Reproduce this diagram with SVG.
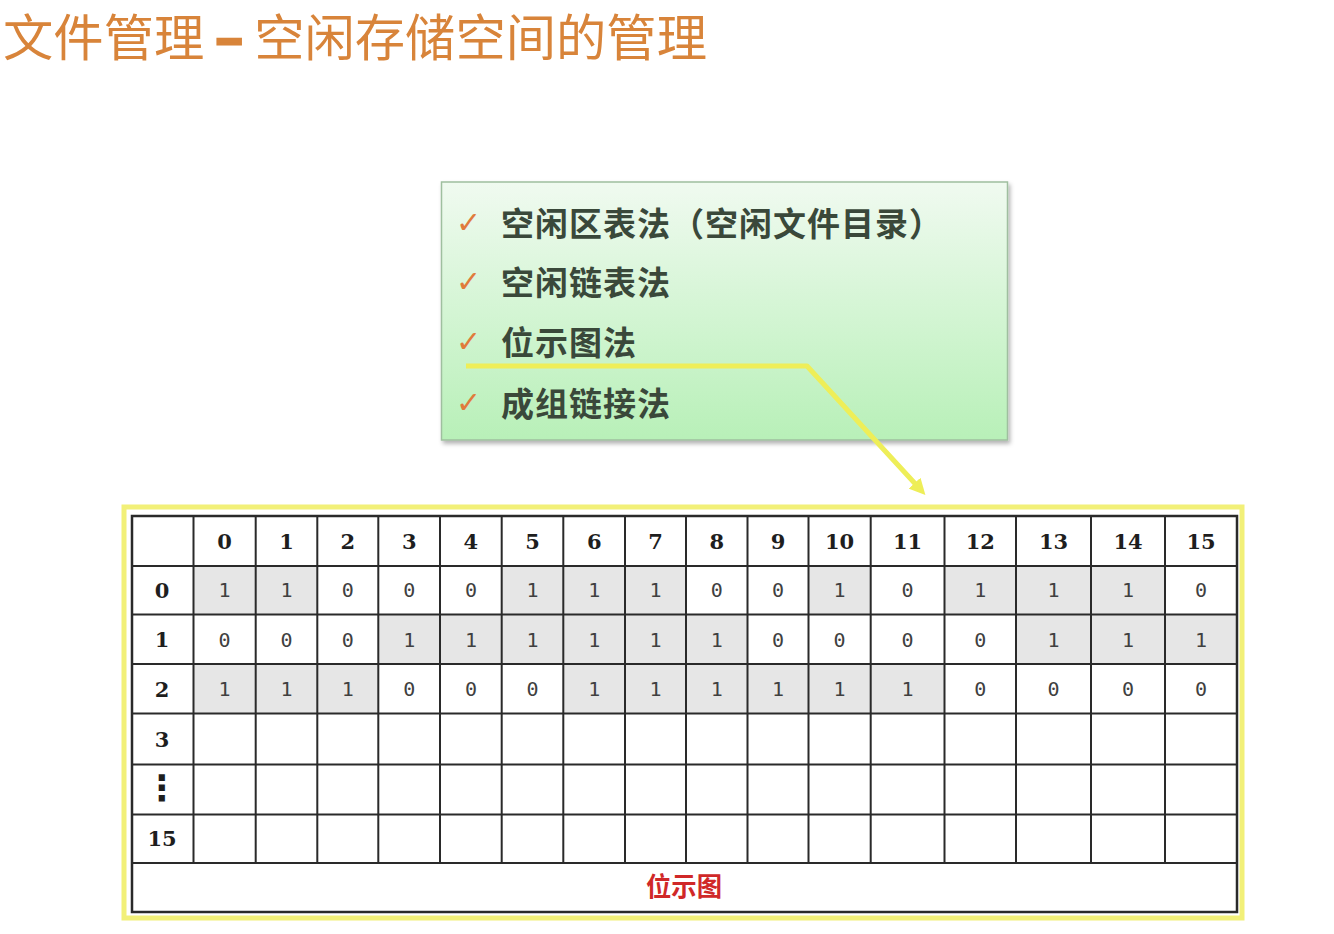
<svg xmlns="http://www.w3.org/2000/svg" width="1334" height="934" viewBox="0 0 1334 934">
<style>
.title{font-family:"Noto Sans CJK SC","Noto Sans",sans-serif;font-size:50px;fill:#d8843a}
.item{font-family:"Noto Sans CJK SC","Noto Sans",sans-serif;font-size:33px;fill:#3a483a;font-weight:bold;letter-spacing:1px}
.chk{font-family:"DejaVu Sans",sans-serif;font-size:30px;fill:#e07b3c}
.hd{font-family:"DejaVu Serif",serif;font-size:21px;font-weight:bold;fill:#1e1e1e;text-anchor:middle}
.d{font-family:"DejaVu Sans Mono",monospace;font-size:20px;fill:#404040;text-anchor:middle}
.grid{stroke:#2a2a2a;stroke-width:2;fill:none}
.on{fill:#e6e6e6}
.cap{font-family:"Noto Sans CJK SC",sans-serif;font-size:26px;font-weight:bold;fill:#d02828;text-anchor:middle}
</style>
<defs>
<linearGradient id="gg" x1="0" y1="0" x2="0" y2="1">
<stop offset="0" stop-color="#f0faf0"/>
<stop offset="1" stop-color="#b8f0b8"/>
</linearGradient>
<filter id="sh" x="-5%" y="-5%" width="110%" height="115%">
<feDropShadow dx="2" dy="3" stdDeviation="2" flood-color="#000" flood-opacity="0.3"/>
</filter>
<marker id="ah" viewBox="0 0 10 10" refX="5" refY="5" markerWidth="3.2" markerHeight="3.2" orient="auto" markerUnits="strokeWidth">
<path d="M0,0 L10,5 L0,10 z" fill="#eeee58"/>
</marker>
</defs>
<rect width="1334" height="934" fill="#ffffff"/>
<g id="title">
<text class="title" x="3" y="56" textLength="704" lengthAdjust="spacingAndGlyphs">文件管理 <tspan font-weight="bold" stroke="#d8843a" stroke-width="3">–</tspan> 空闲存储空间的管理</text>
</g>
<g id="methods">
<rect x="441.5" y="182" width="566" height="258" fill="url(#gg)" stroke="#9fbf9f" stroke-width="1.5" filter="url(#sh)"/>
<text class="chk" x="456" y="233">✓</text>
<text class="item" x="501" y="236">空闲区表法（空闲文件目录）</text>
<text class="chk" x="456" y="292">✓</text>
<text class="item" x="501" y="294.5">空闲链表法</text>
<text class="chk" x="456" y="352">✓</text>
<text class="item" x="501" y="354.5">位示图法</text>
<text class="chk" x="456" y="413">✓</text>
<text class="item" x="501" y="416">成组链接法</text>
</g>
<g id="bitmap">
<rect x="124" y="507" width="1118" height="411" fill="#ffffff" stroke="#f2f078" stroke-width="5"/>
<rect class="on" x="193.5" y="566" width="123.8" height="48.5"/>
<rect class="on" x="501.7" y="566" width="184.3" height="48.5"/>
<rect class="on" x="808.5" y="566" width="62.2" height="48.5"/>
<rect class="on" x="944.5" y="566" width="220.5" height="48.5"/>
<rect class="on" x="378.3" y="614.5" width="369.2" height="49.5"/>
<rect class="on" x="1016" y="614.5" width="221" height="49.5"/>
<rect class="on" x="193.5" y="664" width="184.8" height="49.5"/>
<rect class="on" x="563.3" y="664" width="381.2" height="49.5"/>
<g class="grid">
<rect x="132" y="516" width="1105" height="396" stroke-width="2.5"/>
<path d="M132,566H1237M132,614.5H1237M132,664H1237M132,713.5H1237M132,764.5H1237M132,814.5H1237M132,863H1237"/>
<path d="M193.5,516V863M255.7,516V863M317.3,516V863M378.3,516V863M440,516V863M501.7,516V863M563.3,516V863M625,516V863M686,516V863M747.5,516V863M808.5,516V863M870.7,516V863M944.5,516V863M1016,516V863M1091,516V863M1165,516V863"/>
</g>
<g id="header">
<text class="hd" x="224.6" y="548.5">0</text>
<text class="hd" x="286.5" y="548.5">1</text>
<text class="hd" x="347.8" y="548.5">2</text>
<text class="hd" x="409.2" y="548.5">3</text>
<text class="hd" x="470.9" y="548.5">4</text>
<text class="hd" x="532.5" y="548.5">5</text>
<text class="hd" x="594.2" y="548.5">6</text>
<text class="hd" x="655.5" y="548.5">7</text>
<text class="hd" x="716.8" y="548.5">8</text>
<text class="hd" x="778" y="548.5">9</text>
<text class="hd" x="839.6" y="548.5">10</text>
<text class="hd" x="907.6" y="548.5">11</text>
<text class="hd" x="980.3" y="548.5">12</text>
<text class="hd" x="1053.5" y="548.5">13</text>
<text class="hd" x="1128" y="548.5">14</text>
<text class="hd" x="1201" y="548.5">15</text>
<text class="hd" x="162" y="597.5">0</text>
<text class="hd" x="162" y="647">1</text>
<text class="hd" x="162" y="696.5">2</text>
<text class="hd" x="162" y="746.5">3</text>
<text x="162" y="800" font-family="DejaVu Sans, sans-serif" font-weight="bold" font-size="35" fill="#1e1e1e" text-anchor="middle">⋮</text>
<text class="hd" x="162" y="846">15</text>
</g>
<g id="row0">
<text class="d" x="224.6" y="597">1</text>
<text class="d" x="286.5" y="597">1</text>
<text class="d" x="347.8" y="597">0</text>
<text class="d" x="409.2" y="597">0</text>
<text class="d" x="470.9" y="597">0</text>
<text class="d" x="532.5" y="597">1</text>
<text class="d" x="594.2" y="597">1</text>
<text class="d" x="655.5" y="597">1</text>
<text class="d" x="716.8" y="597">0</text>
<text class="d" x="778" y="597">0</text>
<text class="d" x="839.6" y="597">1</text>
<text class="d" x="907.6" y="597">0</text>
<text class="d" x="980.3" y="597">1</text>
<text class="d" x="1053.5" y="597">1</text>
<text class="d" x="1128" y="597">1</text>
<text class="d" x="1201" y="597">0</text>
</g>
<g id="row1">
<text class="d" x="224.6" y="646.5">0</text>
<text class="d" x="286.5" y="646.5">0</text>
<text class="d" x="347.8" y="646.5">0</text>
<text class="d" x="409.2" y="646.5">1</text>
<text class="d" x="470.9" y="646.5">1</text>
<text class="d" x="532.5" y="646.5">1</text>
<text class="d" x="594.2" y="646.5">1</text>
<text class="d" x="655.5" y="646.5">1</text>
<text class="d" x="716.8" y="646.5">1</text>
<text class="d" x="778" y="646.5">0</text>
<text class="d" x="839.6" y="646.5">0</text>
<text class="d" x="907.6" y="646.5">0</text>
<text class="d" x="980.3" y="646.5">0</text>
<text class="d" x="1053.5" y="646.5">1</text>
<text class="d" x="1128" y="646.5">1</text>
<text class="d" x="1201" y="646.5">1</text>
</g>
<g id="row2">
<text class="d" x="224.6" y="696">1</text>
<text class="d" x="286.5" y="696">1</text>
<text class="d" x="347.8" y="696">1</text>
<text class="d" x="409.2" y="696">0</text>
<text class="d" x="470.9" y="696">0</text>
<text class="d" x="532.5" y="696">0</text>
<text class="d" x="594.2" y="696">1</text>
<text class="d" x="655.5" y="696">1</text>
<text class="d" x="716.8" y="696">1</text>
<text class="d" x="778" y="696">1</text>
<text class="d" x="839.6" y="696">1</text>
<text class="d" x="907.6" y="696">1</text>
<text class="d" x="980.3" y="696">0</text>
<text class="d" x="1053.5" y="696">0</text>
<text class="d" x="1128" y="696">0</text>
<text class="d" x="1201" y="696">0</text>
</g>
<text class="cap" x="684" y="896" textLength="76" lengthAdjust="spacingAndGlyphs">位示图</text>
</g>
<g id="connectors">
<polyline points="466,366 807,366 920,489" fill="none" stroke="#eeee58" stroke-width="5" stroke-linejoin="round" marker-end="url(#ah)"/>
</g>
</svg>
